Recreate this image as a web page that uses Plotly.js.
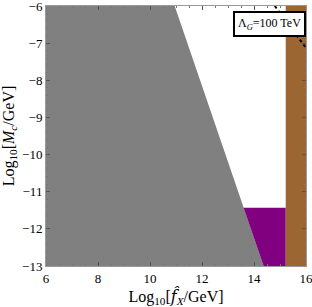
<!DOCTYPE html>
<html>
<head>
<meta charset="utf-8">
<script src="https://cdn.plot.ly/plotly-3.0.1.min.js"></script>
<style>html,body{margin:0;padding:0;background:#fff;}#plot{width:312px;height:307px;}</style>
</head>
<body>
<div id="plot"></div>
<script>
// Region boundaries (data coordinates: log10 f_X, log10 M_c)
const grayX = [6, 10.95, 14.37, 6];
const grayY = [-6, -6, -13, -13];
const purpleX = [13.6, 15.22, 15.22, 14.37];
const purpleY = [-11.43, -11.43, -13, -13];
const brownX = [15.22, 16, 16, 15.22];
const brownY = [-6, -6, -13, -13];
const lambdaX = [14.8, 16];
const lambdaY = [-6, -7.13];
const xTicks = [6, 8, 10, 12, 14, 16];
const yTicks = [-13, -12, -11, -10, -9, -8, -7, -6];
const labelText = "Λ<sub><i>G</i></sub>=100 TeV";

const serif = "'Liberation Serif', 'Times New Roman', serif";

const traces = [
  {x: grayX, y: grayY, type: 'scatter', mode: 'lines', fill: 'toself',
   fillcolor: '#808080', line: {width: 0, color: '#808080'}, hoverinfo: 'skip'},
  {x: purpleX, y: purpleY, type: 'scatter', mode: 'lines', fill: 'toself',
   fillcolor: '#800080', line: {width: 0, color: '#800080'}, hoverinfo: 'skip'},
  {x: brownX, y: brownY, type: 'scatter', mode: 'lines', fill: 'toself',
   fillcolor: '#9b6632', line: {width: 0, color: '#9b6632'}, hoverinfo: 'skip'},
  {x: lambdaX, y: lambdaY, type: 'scatter', mode: 'lines',
   line: {width: 2, color: '#000', dash: 'dot'}, hoverinfo: 'skip'}
];

const axisCommon = {
  showgrid: false, zeroline: false,
  showline: true, linecolor: '#999', linewidth: 1, mirror: 'ticks',
  ticks: 'inside', ticklen: 4, tickcolor: '#555', tickwidth: 1,
  ticklabeloverflow: 'allow',
  tickfont: {family: serif, size: 13, color: '#000'}
};

const layout = {
  width: 312, height: 307,
  margin: {l: 46, r: 6, t: 6, b: 41},
  paper_bgcolor: '#fff', plot_bgcolor: '#fff',
  showlegend: false,
  xaxis: Object.assign({}, axisCommon, {
    range: [6, 16], tickvals: xTicks,
    minor: {ticks: 'inside', ticklen: 2, dtick: 0.5, tickcolor: '#777'},
    title: {text: "Log<sub>10</sub>[<span style=\"font-family:DejaVu Serif;font-style:italic\">f̂</span><sub><i>X</i></sub>/GeV]",
            font: {family: serif, size: 16, color: '#000'}, standoff: 6}
  }),
  yaxis: Object.assign({}, axisCommon, {
    range: [-13, -6], tickvals: yTicks,
    minor: {ticks: 'inside', ticklen: 2, dtick: 0.2, tickcolor: '#777'},
    title: {text: "Log<sub>10</sub>[<i>M</i><sub><i>c</i></sub>/GeV]",
            font: {family: serif, size: 16, color: '#000'}, standoff: 8}
  }),
  annotations: [{
    xref: 'paper', yref: 'paper', x: 1, y: 0.929,
    xanchor: 'right', yanchor: 'middle',
    text: labelText, showarrow: false,
    font: {family: serif, size: 12, color: '#000'},
    bgcolor: '#fff', bordercolor: '#000', borderwidth: 2, borderpad: 3
  }]
};

Plotly.newPlot('plot', traces, layout, {staticPlot: true, displayModeBar: false});
</script>
</body>
</html>
